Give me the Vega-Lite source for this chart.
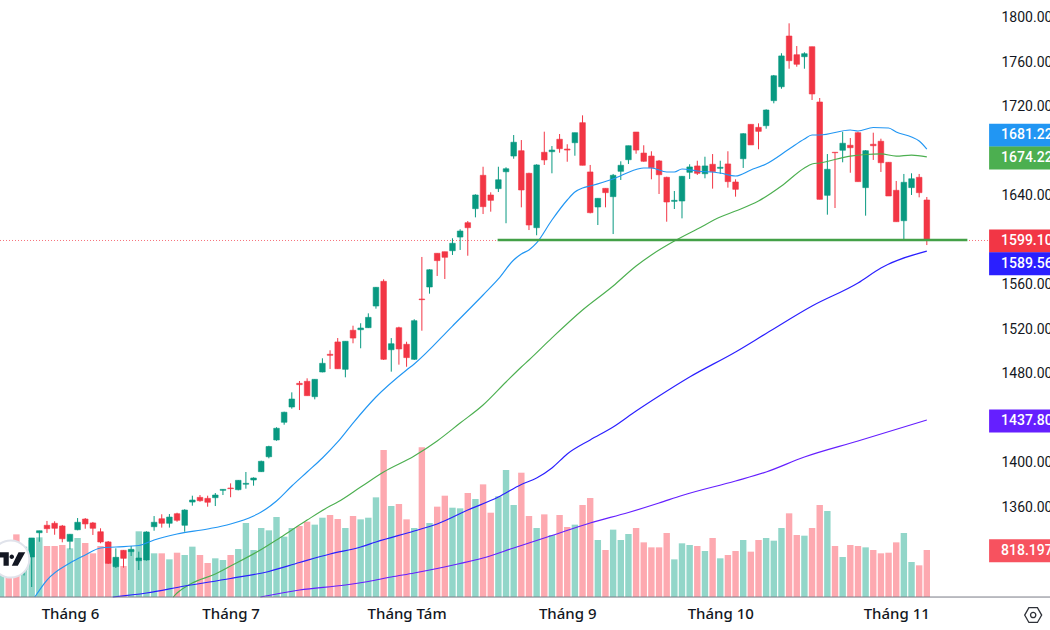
{
"$schema":"https://vega.github.io/schema/vega-lite/v6.json",
"width":1050,
"height":630,
"autosize":{"type":"none"},
"padding":0,
"background":"white",
"datasets":{
"bars":[
{"i":-1,"open":1307,"high":1318,"low":1300,"close":1316,"vol":818},
{"i":0,"open":1316,"high":1318,"low":1305,"close":1308,"vol":876},
{"i":1,"open":1312,"high":1316,"low":1302,"close":1305,"vol":1090},
{"i":2,"open":1303,"high":1318,"low":1298,"close":1314,"vol":876},
{"i":3,"open":1314.6,"high":1331.7,"low":1287.6,"close":1331.7,"vol":992},
{"i":4,"open":1336.4,"high":1338.2,"low":1328.3,"close":1338.2,"vol":1038},
{"i":5,"open":1343.1,"high":1347,"low":1336.2,"close":1340,"vol":887},
{"i":6,"open":1344.9,"high":1346.7,"low":1334.6,"close":1340.4,"vol":887},
{"i":7,"open":1342.5,"high":1343.4,"low":1327.8,"close":1331,"vol":905},
{"i":8,"open":1328.7,"high":1335.3,"low":1321.5,"close":1335,"vol":847},
{"i":9,"open":1339.1,"high":1349.6,"low":1338.6,"close":1345.8,"vol":1027},
{"i":10,"open":1348.7,"high":1349.6,"low":1340,"close":1344.3,"vol":940},
{"i":11,"open":1345.2,"high":1346.1,"low":1334.4,"close":1340.4,"vol":760},
{"i":12,"open":1337.3,"high":1340.4,"low":1326.9,"close":1328.1,"vol":887},
{"i":13,"open":1328.1,"high":1329,"low":1308.3,"close":1308.9,"vol":963},
{"i":14,"open":1305.9,"high":1322.4,"low":1304.7,"close":1314.3,"vol":690},
{"i":15,"open":1320.6,"high":1320.9,"low":1305,"close":1313.4,"vol":539},
{"i":16,"open":1319.4,"high":1324.5,"low":1315.5,"close":1321.5,"vol":818},
{"i":17,"open":1311.3,"high":1319.4,"low":1302.9,"close":1313.7,"vol":1143},
{"i":18,"open":1311.9,"high":1337.7,"low":1311.3,"close":1337.1,"vol":1119},
{"i":19,"open":1341.8,"high":1351.4,"low":1338.2,"close":1345.8,"vol":760},
{"i":20,"open":1349,"high":1353,"low":1341,"close":1344.9,"vol":760},
{"i":21,"open":1344.9,"high":1353.2,"low":1341,"close":1350.5,"vol":655},
{"i":22,"open":1353.5,"high":1354.4,"low":1346.3,"close":1347.6,"vol":771},
{"i":23,"open":1343.1,"high":1357.5,"low":1337.3,"close":1356.8,"vol":731},
{"i":24,"open":1364,"high":1369.7,"low":1360.7,"close":1365.8,"vol":876},
{"i":25,"open":1368.2,"high":1370.3,"low":1364.3,"close":1365.2,"vol":731},
{"i":26,"open":1367.3,"high":1369.7,"low":1359.8,"close":1363.8,"vol":592},
{"i":27,"open":1367.9,"high":1372.1,"low":1360.4,"close":1370.3,"vol":673},
{"i":28,"open":1374.5,"high":1375.4,"low":1370.3,"close":1375.4,"vol":644},
{"i":29,"open":1376.6,"high":1380.8,"low":1368.3,"close":1376,"vol":731},
{"i":30,"open":1375.1,"high":1383.8,"low":1374.5,"close":1383.5,"vol":835},
{"i":31,"open":1380,"high":1391,"low":1376,"close":1380.8,"vol":1288},
{"i":32,"open":1383.8,"high":1386.2,"low":1378.7,"close":1385.6,"vol":818},
{"i":33,"open":1391.3,"high":1401.2,"low":1391,"close":1400.6,"vol":1201},
{"i":34,"open":1404.7,"high":1414.6,"low":1403.3,"close":1413.9,"vol":1160},
{"i":35,"open":1419.8,"high":1431.2,"low":1419.1,"close":1430.3,"vol":1392},
{"i":36,"open":1435.7,"high":1445.2,"low":1433.5,"close":1444.7,"vol":1050},
{"i":37,"open":1449.4,"high":1462.6,"low":1447.9,"close":1456.6,"vol":1201},
{"i":38,"open":1470.7,"high":1472.8,"low":1446.7,"close":1469.5,"vol":1235},
{"i":39,"open":1472.5,"high":1475.2,"low":1459.6,"close":1459.6,"vol":1311},
{"i":40,"open":1458.7,"high":1474.3,"low":1456.3,"close":1474.3,"vol":1259},
{"i":41,"open":1480.9,"high":1493.2,"low":1480.6,"close":1488.7,"vol":1380},
{"i":42,"open":1496.8,"high":1500.4,"low":1483.6,"close":1495.9,"vol":1427},
{"i":43,"open":1507.9,"high":1511.4,"low":1483.8,"close":1483.8,"vol":1357},
{"i":44,"open":1483.3,"high":1508.5,"low":1476.1,"close":1508.5,"vol":1201},
{"i":45,"open":1518.4,"high":1522.5,"low":1506.7,"close":1511.4,"vol":1409},
{"i":46,"open":1518.9,"high":1524.7,"low":1502.2,"close":1520.4,"vol":1351},
{"i":47,"open":1520.7,"high":1533.6,"low":1520.4,"close":1530,"vol":1380},
{"i":48,"open":1540.2,"high":1557.3,"low":1537.8,"close":1557,"vol":1734},
{"i":49,"open":1562.4,"high":1564.2,"low":1491.7,"close":1492.3,"vol":2558},
{"i":50,"open":1500.9,"high":1511.4,"low":1481.2,"close":1506.3,"vol":1583},
{"i":51,"open":1520.7,"high":1521.6,"low":1487.5,"close":1501.6,"vol":1618},
{"i":52,"open":1505.8,"high":1508.1,"low":1485.6,"close":1493.8,"vol":1351},
{"i":53,"open":1492.3,"high":1528.3,"low":1491.7,"close":1527,"vol":1201},
{"i":54,"open":1546.5,"high":1584.3,"low":1518,"close":1545.9,"vol":2604},
{"i":55,"open":1557.3,"high":1573.2,"low":1551.3,"close":1572.8,"vol":1288},
{"i":56,"open":1587.6,"high":1587.6,"low":1567.2,"close":1581,"vol":1572},
{"i":57,"open":1589,"high":1589,"low":1564.5,"close":1584,"vol":1763},
{"i":58,"open":1589.9,"high":1601.1,"low":1586.1,"close":1596.6,"vol":1554},
{"i":59,"open":1602.2,"high":1609.2,"low":1590.6,"close":1607.6,"vol":1543},
{"i":60,"open":1615.1,"high":1616.6,"low":1585.4,"close":1610.6,"vol":1810},
{"i":61,"open":1627.7,"high":1640.6,"low":1619.9,"close":1640,"vol":1705},
{"i":62,"open":1657.7,"high":1665.4,"low":1622.9,"close":1629.5,"vol":1960},
{"i":63,"open":1640,"high":1642.4,"low":1625,"close":1635.2,"vol":1467},
{"i":64,"open":1645.7,"high":1665.4,"low":1642.7,"close":1653.7,"vol":1752},
{"i":65,"open":1660.9,"high":1664.9,"low":1614.6,"close":1663.6,"vol":2210},
{"i":66,"open":1675,"high":1693.9,"low":1672.6,"close":1687.4,"vol":1601},
{"i":67,"open":1679.8,"high":1689.4,"low":1628.9,"close":1644.5,"vol":2163},
{"i":68,"open":1659.5,"high":1660,"low":1608.5,"close":1613,"vol":1409},
{"i":69,"open":1610.6,"high":1667.6,"low":1603.8,"close":1667,"vol":1201},
{"i":70,"open":1678.4,"high":1696.9,"low":1667,"close":1671.5,"vol":1438},
{"i":71,"open":1678.9,"high":1684,"low":1659.5,"close":1680.4,"vol":1079},
{"i":72,"open":1690.1,"high":1694.8,"low":1678,"close":1681.6,"vol":1427},
{"i":73,"open":1681.3,"high":1685.6,"low":1669.9,"close":1680.4,"vol":1218},
{"i":74,"open":1687,"high":1696,"low":1675.3,"close":1696,"vol":1259},
{"i":75,"open":1705,"high":1711.6,"low":1666.7,"close":1666.7,"vol":1601},
{"i":76,"open":1660.7,"high":1667,"low":1623.5,"close":1624.1,"vol":1723},
{"i":77,"open":1629.2,"high":1637,"low":1613,"close":1637,"vol":992},
{"i":78,"open":1646,"high":1646,"low":1628.9,"close":1642.1,"vol":818},
{"i":79,"open":1638.5,"high":1658.9,"low":1604.9,"close":1657.7,"vol":1172},
{"i":80,"open":1661.3,"high":1670.3,"low":1653.5,"close":1666.7,"vol":992},
{"i":81,"open":1671.7,"high":1684.3,"low":1667.9,"close":1684.3,"vol":1096},
{"i":82,"open":1696.6,"high":1696.6,"low":1677.1,"close":1680.4,"vol":1201},
{"i":83,"open":1677.7,"high":1684.7,"low":1669.9,"close":1670.3,"vol":951},
{"i":84,"open":1675,"high":1679.3,"low":1654.1,"close":1664.5,"vol":864},
{"i":85,"open":1670.6,"high":1671.5,"low":1640.9,"close":1658.2,"vol":864},
{"i":86,"open":1655.9,"high":1656.4,"low":1616,"close":1633.7,"vol":1114},
{"i":87,"open":1634.3,"high":1643.6,"low":1627.4,"close":1635.2,"vol":655},
{"i":88,"open":1634.6,"high":1657.1,"low":1619,"close":1656.8,"vol":934},
{"i":89,"open":1660.4,"high":1667.6,"low":1654.4,"close":1665.2,"vol":905},
{"i":90,"open":1666.1,"high":1670.8,"low":1658,"close":1659.5,"vol":887},
{"i":91,"open":1659.1,"high":1674.4,"low":1655,"close":1666.1,"vol":800},
{"i":92,"open":1667.6,"high":1676.8,"low":1645.7,"close":1661,"vol":1027},
{"i":93,"open":1664,"high":1670.8,"low":1658.9,"close":1664.9,"vol":673},
{"i":94,"open":1667.9,"high":1679.3,"low":1646.6,"close":1652,"vol":731},
{"i":95,"open":1651.7,"high":1654.1,"low":1638.5,"close":1645.1,"vol":800},
{"i":96,"open":1672.6,"high":1695.5,"low":1664.3,"close":1695.1,"vol":992},
{"i":97,"open":1703.5,"high":1703.5,"low":1685,"close":1685,"vol":789},
{"i":98,"open":1700.8,"high":1704.4,"low":1681.1,"close":1697.2,"vol":992},
{"i":99,"open":1702.3,"high":1717,"low":1699.6,"close":1716.4,"vol":1027},
{"i":100,"open":1724.8,"high":1747.9,"low":1722.4,"close":1747.2,"vol":980},
{"i":101,"open":1737.3,"high":1767.4,"low":1735.5,"close":1765,"vol":1201},
{"i":102,"open":1782.9,"high":1794.3,"low":1753.5,"close":1760.7,"vol":1456},
{"i":103,"open":1766.1,"high":1773.9,"low":1755.3,"close":1757.5,"vol":1079},
{"i":104,"open":1764.3,"high":1768.3,"low":1753.5,"close":1767,"vol":1067},
{"i":105,"open":1773.3,"high":1773.3,"low":1725.4,"close":1730.8,"vol":1201},
{"i":106,"open":1723.6,"high":1727.2,"low":1636.1,"close":1636.1,"vol":1601},
{"i":107,"open":1639.7,"high":1676.8,"low":1622.3,"close":1663.1,"vol":1496},
{"i":108,"open":1678.4,"high":1678.4,"low":1628.3,"close":1678,"vol":887},
{"i":109,"open":1680.2,"high":1696.9,"low":1669.4,"close":1686.5,"vol":696},
{"i":110,"open":1684.7,"high":1691.2,"low":1660,"close":1682.5,"vol":905},
{"i":111,"open":1696,"high":1696.9,"low":1652,"close":1652,"vol":887},
{"i":112,"open":1646.6,"high":1680.4,"low":1621.4,"close":1679.8,"vol":864},
{"i":113,"open":1685.6,"high":1696,"low":1671.5,"close":1684.3,"vol":818},
{"i":114,"open":1688.3,"high":1690.6,"low":1660.7,"close":1669,"vol":760},
{"i":115,"open":1669.4,"high":1669.4,"low":1639.1,"close":1639.1,"vol":771},
{"i":116,"open":1644.2,"high":1652.6,"low":1616,"close":1616,"vol":951},
{"i":117,"open":1616.9,"high":1658.9,"low":1599.5,"close":1651.4,"vol":1114},
{"i":118,"open":1646.6,"high":1659.5,"low":1640,"close":1654.6,"vol":609},
{"i":119,"open":1655.9,"high":1658.9,"low":1637.9,"close":1642.1,"vol":551},
{"i":120,"open":1635.5,"high":1638.2,"low":1595,"close":1599.1,"vol":818.197}
],
"ma":[
{"series":"MA20","i":3.4,"value":1278.6},{"series":"MA20","i":5,"value":1293.9},{"series":"MA20","i":8,"value":1309.2},{"series":"MA20","i":10,"value":1316.4},{"series":"MA20","i":12,"value":1322.7},{"series":"MA20","i":14,"value":1323.6},{"series":"MA20","i":17,"value":1324.9},{"series":"MA20","i":19,"value":1329.9},{"series":"MA20","i":22,"value":1335.3},{"series":"MA20","i":26,"value":1339.8},{"series":"MA20","i":29,"value":1344.3},{"series":"MA20","i":32,"value":1351.5},{"series":"MA20","i":33,"value":1355},{"series":"MA20","i":35,"value":1364.9},{"series":"MA20","i":37,"value":1378.4},{"series":"MA20","i":39,"value":1391},{"series":"MA20","i":41,"value":1403.6},{"series":"MA20","i":43,"value":1418},{"series":"MA20","i":45,"value":1435},{"series":"MA20","i":48,"value":1458.4},{"series":"MA20","i":52,"value":1482.7},{"series":"MA20","i":53,"value":1488.1},{"series":"MA20","i":58,"value":1522.2},{"series":"MA20","i":62,"value":1550.1},{"series":"MA20","i":64,"value":1564.5},{"series":"MA20","i":66,"value":1581.6},{"series":"MA20","i":67,"value":1587},{"series":"MA20","i":68,"value":1590.6},{"series":"MA20","i":69,"value":1596.9},{"series":"MA20","i":71,"value":1617.5},{"series":"MA20","i":73,"value":1635.5},{"series":"MA20","i":74,"value":1642.7},{"series":"MA20","i":75,"value":1646.3},{"series":"MA20","i":76,"value":1648.1},{"series":"MA20","i":79,"value":1654.4},{"series":"MA20","i":82,"value":1662.9},{"series":"MA20","i":83,"value":1664.3},{"series":"MA20","i":84,"value":1664.3},{"series":"MA20","i":86,"value":1660.7},{"series":"MA20","i":87,"value":1660.7},{"series":"MA20","i":88,"value":1663.4},{"series":"MA20","i":90,"value":1661.6},{"series":"MA20","i":93,"value":1659.8},{"series":"MA20","i":95,"value":1657.1},{"series":"MA20","i":97,"value":1662.5},{"series":"MA20","i":99,"value":1667.9},{"series":"MA20","i":102,"value":1681.3},{"series":"MA20","i":104,"value":1690.3},{"series":"MA20","i":105,"value":1693.9},{"series":"MA20","i":106,"value":1693.9},{"series":"MA20","i":110,"value":1698.4},{"series":"MA20","i":111,"value":1697.5},{"series":"MA20","i":113,"value":1700.7},{"series":"MA20","i":115,"value":1700.2},{"series":"MA20","i":116,"value":1696.6},{"series":"MA20","i":118,"value":1692.1},{"series":"MA20","i":119,"value":1688.5},{"series":"MA20","i":120,"value":1681.22},
{"series":"MA50","i":21.5,"value":1278.6},{"series":"MA50","i":22,"value":1282.2},{"series":"MA50","i":24,"value":1291.2},{"series":"MA50","i":27,"value":1299.3},{"series":"MA50","i":29,"value":1306.5},{"series":"MA50","i":33,"value":1321.3},{"series":"MA50","i":35,"value":1329.9},{"series":"MA50","i":37,"value":1338.9},{"series":"MA50","i":39,"value":1347.8},{"series":"MA50","i":42,"value":1360.4},{"series":"MA50","i":43,"value":1364},{"series":"MA50","i":46,"value":1377.5},{"series":"MA50","i":49,"value":1391},{"series":"MA50","i":53,"value":1405.4},{"series":"MA50","i":56,"value":1418.9},{"series":"MA50","i":59,"value":1435},{"series":"MA50","i":62,"value":1451.2},{"series":"MA50","i":65,"value":1471.9},{"series":"MA50","i":67,"value":1485.4},{"series":"MA50","i":68,"value":1491.7},{"series":"MA50","i":71,"value":1511.5},{"series":"MA50","i":75,"value":1536.6},{"series":"MA50","i":79,"value":1558.2},{"series":"MA50","i":82,"value":1576.2},{"series":"MA50","i":84,"value":1586.1},{"series":"MA50","i":87,"value":1598.6},{"series":"MA50","i":90,"value":1609.4},{"series":"MA50","i":93,"value":1620.2},{"series":"MA50","i":95,"value":1625.6},{"series":"MA50","i":98,"value":1634.6},{"series":"MA50","i":101,"value":1648.1},{"series":"MA50","i":104,"value":1664.3},{"series":"MA50","i":105,"value":1667.9},{"series":"MA50","i":106,"value":1668.8},{"series":"MA50","i":110,"value":1675},{"series":"MA50","i":112,"value":1676.4},{"series":"MA50","i":114,"value":1676.9},{"series":"MA50","i":116,"value":1675},{"series":"MA50","i":118,"value":1675.9},{"series":"MA50","i":120,"value":1674.22},
{"series":"MA100","i":13.6,"value":1278.6},{"series":"MA100","i":18,"value":1282.2},{"series":"MA100","i":23,"value":1288.5},{"series":"MA100","i":29,"value":1295.3},{"series":"MA100","i":34,"value":1301.6},{"series":"MA100","i":38,"value":1309.6},{"series":"MA100","i":42,"value":1317.3},{"series":"MA100","i":46,"value":1323.6},{"series":"MA100","i":48,"value":1328.1},{"series":"MA100","i":53,"value":1338},{"series":"MA100","i":56,"value":1344.3},{"series":"MA100","i":60,"value":1356.8},{"series":"MA100","i":64,"value":1368.5},{"series":"MA100","i":67,"value":1379.8},{"series":"MA100","i":69,"value":1385.6},{"series":"MA100","i":71,"value":1394.6},{"series":"MA100","i":73,"value":1407.2},{"series":"MA100","i":76,"value":1419.8},{"series":"MA100","i":79,"value":1431.4},{"series":"MA100","i":82,"value":1445.8},{"series":"MA100","i":85,"value":1459.3},{"series":"MA100","i":89,"value":1476.4},{"series":"MA100","i":95,"value":1498.9},{"series":"MA100","i":99,"value":1515.5},{"series":"MA100","i":105,"value":1540.2},{"series":"MA100","i":111,"value":1560.9},{"series":"MA100","i":114,"value":1574.4},{"series":"MA100","i":120,"value":1589.56},
{"series":"MA200","i":32.9,"value":1278.6},{"series":"MA200","i":38,"value":1284.9},{"series":"MA200","i":44,"value":1289.4},{"series":"MA200","i":47,"value":1292.6},{"series":"MA200","i":50,"value":1296.6},{"series":"MA200","i":53,"value":1300.2},{"series":"MA200","i":56,"value":1304.2},{"series":"MA200","i":59,"value":1308.7},{"series":"MA200","i":62,"value":1313.7},{"series":"MA200","i":66,"value":1322.7},{"series":"MA200","i":71,"value":1333.9},{"series":"MA200","i":76,"value":1345.2},{"series":"MA200","i":81,"value":1354.6},{"series":"MA200","i":85,"value":1363.1},{"series":"MA200","i":88,"value":1369.9},{"series":"MA200","i":95,"value":1382.9},{"series":"MA200","i":99,"value":1391},{"series":"MA200","i":104,"value":1404.5},{"series":"MA200","i":111,"value":1418.9},{"series":"MA200","i":120,"value":1437.8}
],
"tags":[
{"label":"1681.22","pos":1693.7,"series":"MA20"},
{"label":"1674.22","pos":1673.3,"series":"MA50"},
{"label":"1599.10","pos":1598.6,"series":"last"},
{"label":"1589.56","pos":1578.2,"series":"MA100"},
{"label":"1437.80","pos":1436.8,"series":"MA200"},
{"label":"818.197","pos":1320.3,"series":"vol"}
],
"one":[{"note":"annotation"}]
},
"config":{
"view":{"stroke":null},
"axis":{"grid":false,"ticks":false,"domain":false,"labelFont":"Roboto","labelFontSize":14,"labelColor":"#131722","title":null}
},
"resolve":{"scale":{"y":"independent"}},
"layer":[
{
"data":{"name":"bars"},
"mark":{"type":"bar","size":6.4},
"encoding":{
"x":{"field":"i","type":"quantitative",
"scale":{"domain":[-1.141,136.1],"nice":false,"zero":false,"padding":0},
"axis":{"orient":"bottom","offset":-33,"values":[8,29,52,73,93,116],"labelExpr":"{8:'Tháng 6',29:'Tháng 7',52:'Tháng Tám',73:'Tháng 9',93:'Tháng 10',116:'Tháng 11'}[datum.value]","labelPadding":9,"labelOverlap":false,"labelFont":"Noto Sans","labelFontSize":15,"labelFontWeight":500,"labelFlush":false}},
"y":{"field":"vol","type":"quantitative","scale":{"domain":[-574.2,10388],"nice":false},"axis":null},
"color":{"condition":{"test":"datum.close>=datum.open","value":"#92d6c9"},"value":"#fda9b0"}
}
},
{
"layer":[
{
"data":{"name":"bars"},
"mark":{"type":"rule","strokeWidth":1},
"encoding":{
"x":{"field":"i","type":"quantitative"},
"y":{"field":"low","type":"quantitative","scale":{"domain":[1248.97,1815.28],"nice":false,"zero":false},"axis":{"orient":"right","offset":-60,"values":[1360,1400,1480,1520,1560,1640,1720,1760,1800],"format":".2f","labelPadding":11,"labelAlign":"left","labelOffset":1}},
"y2":{"field":"high"},
"color":{"condition":{"test":"datum.close>=datum.open","value":"#089981"},"value":"#f23645"}
}
},
{
"data":{"name":"bars"},
"mark":{"type":"bar","size":5.6,"strokeWidth":0.6},
"encoding":{
"x":{"field":"i","type":"quantitative"},
"y":{"field":"open","type":"quantitative"},
"y2":{"field":"close"},
"color":{"condition":{"test":"datum.close>=datum.open","value":"#089981"},"value":"#f23645"},
"stroke":{"condition":{"test":"datum.close>=datum.open","value":"#089981"},"value":"#f23645"}
}
},
{
"data":{"name":"ma"},
"mark":{"type":"line","strokeWidth":1.15,"interpolate":"monotone"},
"encoding":{
"x":{"field":"i","type":"quantitative"},
"y":{"field":"value","type":"quantitative"},
"color":{"field":"series","type":"nominal","scale":{"domain":["MA20","MA50","MA100","MA200","last","vol"],"range":["#2196f3","#4caf50","#2a1fff","#651fff","#f23645","#f7525f"]},"legend":null}
}
},
{
"data":{"name":"one"},
"mark":{"type":"rule","strokeWidth":1,"strokeDash":[1,2],"color":"#f23645","opacity":0.7},
"encoding":{"x":{"datum":-1.141},"x2":{"datum":128.1},"y":{"datum":1599.1}}
},
{
"data":{"name":"one"},
"mark":{"type":"rule","strokeWidth":2.5,"color":"#43a047"},
"encoding":{"x":{"datum":63.9},"x2":{"datum":125.3},"y":{"datum":1599.5}}
},
{
"data":{"name":"one"},
"mark":{"type":"rule","strokeWidth":1,"color":"#787b86"},
"encoding":{"x":{"datum":-1.141},"x2":{"datum":136.1},"y":{"datum":1278.6}}
},
{
"data":{"name":"tags"},
"mark":{"type":"rect","height":23},
"encoding":{
"x":{"datum":128.14},"x2":{"datum":136.1},
"y":{"field":"pos","type":"quantitative"},
"color":{"field":"series","type":"nominal","legend":null}
}
},
{
"data":{"name":"tags"},
"mark":{"type":"text","align":"left","baseline":"middle","font":"Roboto","fontSize":14,"fontWeight":500},
"encoding":{
"x":{"datum":129.7},
"y":{"field":"pos","type":"quantitative"},
"text":{"field":"label"},
"color":{"value":"white"}
}
},
{
"data":{"name":"one"},
"mark":{"type":"point","filled":true,"fill":"white","stroke":"#e0e3eb","strokeWidth":2,"size":1385,"opacity":1},
"encoding":{"x":{"datum":0.26},"y":{"datum":1312.8}}
},
{
"data":{"name":"one"},
"mark":{"type":"point","filled":true,"fill":"#131722","strokeWidth":0,"size":900,"opacity":1,"shape":"M-1,-0.45 H-0.15 V0.45 H-0.5 V-0.1 H-1 Z M0.05,-0.3 a0.15,0.15 0 1,0 0.001,0 Z M0.5,-0.45 H0.95 L0.45,0.45 H0.05 Z"},
"encoding":{"x":{"datum":0.3},"y":{"datum":1312.8}}
},
{
"data":{"name":"one"},
"mark":{"type":"point","filled":false,"stroke":"#2e3138","strokeWidth":1.3,"size":289,"opacity":1,"shape":"M-1,0 L-0.5,-0.87 L0.5,-0.87 L1,0 L0.5,0.87 L-0.5,0.87 Z"},
"encoding":{"x":{"datum":133.9},"y":{"datum":1262.4}}
},
{
"data":{"name":"one"},
"mark":{"type":"point","shape":"circle","filled":false,"stroke":"#2e3138","strokeWidth":1.3,"size":28,"opacity":1},
"encoding":{"x":{"datum":133.9},"y":{"datum":1262.4}}
}
]
}
]
}
